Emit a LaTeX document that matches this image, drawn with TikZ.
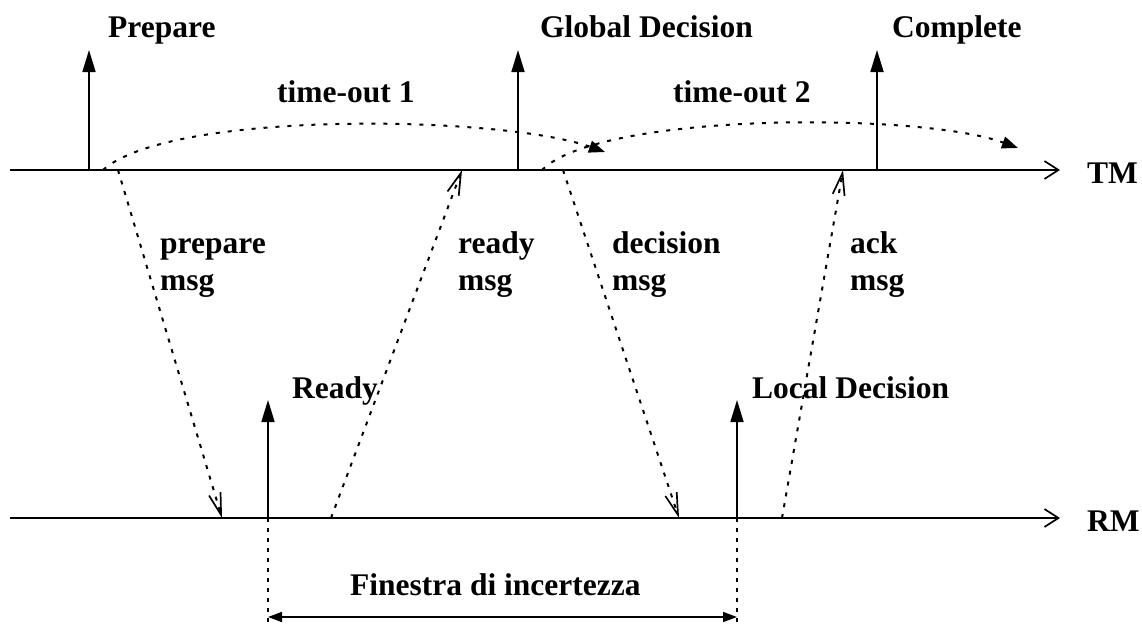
\documentclass[tikz,border=0pt]{standalone}
\usepackage{fontspec}
\setmainfont{Liberation Serif}
\usetikzlibrary{arrows.meta}
\begin{document}
\begin{tikzpicture}[x=1pt,y=-1pt,
  lbl/.style={font=\bfseries\fontsize{31.5}{37}\selectfont, inner sep=0pt, anchor=base west, align=left},
  axis/.style={line width=1.7pt, -{Straight Barb[length=14pt,width=18pt,line width=1.7pt]}},
  event/.style={line width=1.7pt, -{Triangle[length=22pt,width=13pt]}},
  msg/.style={line width=2pt, dash pattern=on 4pt off 7pt, -{Straight Barb[length=22pt,width=12pt,line width=1.7pt]}},
  timeout/.style={line width=2pt, dash pattern=on 4pt off 8pt, -{Triangle[length=16pt,width=12pt]}},
  guide/.style={line width=2pt, dash pattern=on 4pt off 6pt},
  span/.style={line width=1.7pt, {Triangle[length=14pt,width=10pt]}-{Triangle[length=14pt,width=10pt]}}
]
\useasboundingbox (0,0) rectangle (1142,624);

% time lines of the transaction manager and the resource manager
\coordinate (tmL) at (10,170);
\coordinate (tmR) at (1060,170);
\coordinate (rmL) at (10,518);
\coordinate (rmR) at (1060,518);
\draw[axis] (tmL) -- (tmR);
\draw[axis] (rmL) -- (rmR);
\node[lbl] (tm) at (1087,183) {TM};
\node[lbl] (rm) at (1087,531) {RM};

% events on the TM line
\coordinate (prepB) at (89,170);  \coordinate (prepT) at (89,50);
\coordinate (globB) at (518,170); \coordinate (globT) at (518,50);
\coordinate (compB) at (877,170); \coordinate (compT) at (877,50);
\draw[event] (prepB) -- (prepT);
\draw[event] (globB) -- (globT);
\draw[event] (compB) -- (compT);
\node[lbl] (prepare) at (108,37) {Prepare};
\node[lbl] (global) at (540,37) {Global Decision};
\node[lbl] (complete) at (892,37) {Complete};

% events on the RM line
\coordinate (readyB) at (268,518); \coordinate (readyT) at (268,400);
\coordinate (localB) at (737,518); \coordinate (localT) at (737,400);
\draw[event] (readyB) -- (readyT);
\draw[event] (localB) -- (localT);
\node[lbl] (ready) at (292,398) {Ready};
\node[lbl] (local) at (752,398) {Local Decision};

% time-outs
\coordinate (to1s) at (103,170); \coordinate (to1e) at (605,152);
\coordinate (to2s) at (542,170); \coordinate (to2e) at (1018,148);
\draw[timeout] (to1s) .. controls (170,110) and (500,115) .. (to1e);
\draw[timeout] (to2s) .. controls (600,112) and (920,112) .. (to2e);
\node[lbl] (t1) at (277,102) {time-out 1};
\node[lbl] (t2) at (673,102) {time-out 2};

% messages between TM and RM
\coordinate (m1s) at (118,170); \coordinate (m1e) at (222,518);
\coordinate (m2s) at (331,518); \coordinate (m2e) at (462,170);
\coordinate (m3s) at (563,170); \coordinate (m3e) at (679,518);
\coordinate (m4s) at (782,518); \coordinate (m4e) at (843,170);
\draw[msg] (m1s) -- (m1e);
\draw[msg] (m2s) -- (m2e);
\draw[msg] (m3s) -- (m3e);
\draw[msg] (m4s) -- (m4e);
\node[lbl] (l1) at (160,290) {prepare\\msg};
\node[lbl] (l2) at (458,290) {ready\\msg};
\node[lbl] (l3) at (612,290) {decision\\msg};
\node[lbl] (l4) at (850,290) {ack\\msg};

% window of uncertainty
\coordinate (w1) at (268,617); \coordinate (w2) at (737,617);
\coordinate (g1) at (268,624); \coordinate (g2) at (737,624);
\draw[guide] (readyB) -- (g1);
\draw[guide] (localB) -- (g2);
\draw[span] (w1) -- (w2);
\node[lbl] (win) at (350,595) {Finestra di incertezza};
\end{tikzpicture}
\end{document}
